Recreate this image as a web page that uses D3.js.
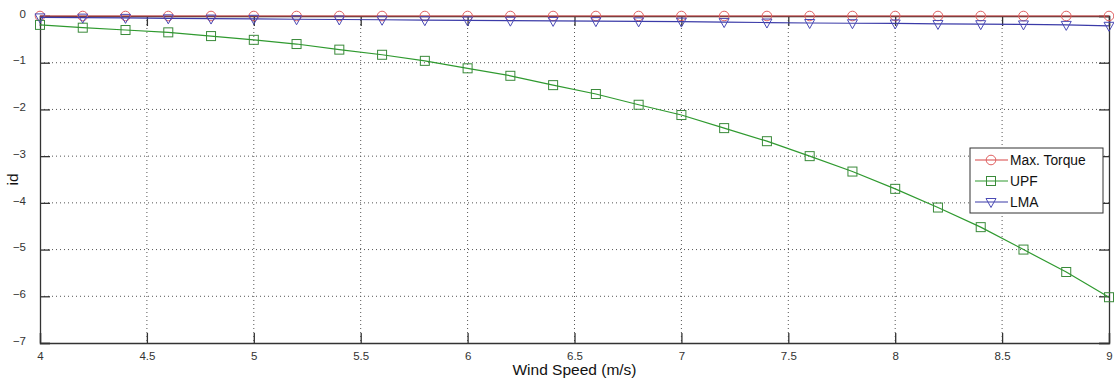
<!DOCTYPE html>
<html><head><meta charset="utf-8">
<script src="https://cdn.jsdelivr.net/npm/d3@7"></script>
<style>body{margin:0;background:#fff;} svg{display:block;font-family:"Liberation Sans",Arial,sans-serif;}</style>
</head><body>
<script>
const windSpeed = [4,4.2,4.4,4.6,4.8,5,5.2,5.4,5.6,5.8,6,6.2,6.4,6.6,6.8,7,7.2,7.4,7.6,7.8,8,8.2,8.4,8.6,8.8,9];
const maxTorque = [0,0,0,0,0,0,0,0,0,0,0,0,0,0,0,0,0,0,0,0,0,0,0,0,0,0];
const upf = [-0.19,-0.25,-0.30,-0.35,-0.43,-0.51,-0.60,-0.72,-0.83,-0.96,-1.12,-1.28,-1.48,-1.67,-1.90,-2.12,-2.40,-2.68,-3.00,-3.33,-3.70,-4.10,-4.52,-5.00,-5.48,-6.02];
const lma = [-0.03,-0.035,-0.04,-0.05,-0.055,-0.06,-0.07,-0.075,-0.08,-0.09,-0.095,-0.10,-0.105,-0.11,-0.115,-0.12,-0.13,-0.14,-0.15,-0.155,-0.16,-0.17,-0.175,-0.18,-0.19,-0.21];
const xTicks = [4,4.5,5,5.5,6,6.5,7,7.5,8,8.5,9];
const yTicks = [0,-1,-2,-3,-4,-5,-6,-7];
const seriesNames = ["Max. Torque","UPF","LMA"];
const xLabel = "Wind Speed (m/s)";
const yLabel = "id";

const W=1114,H=380;
const m={l:40,r:5,t:16,b:37};
const svg=d3.select("body").append("svg").attr("width",W).attr("height",H);
const x=d3.scaleLinear().domain([4,9]).range([m.l,W-m.r]);
const y=d3.scaleLinear().domain([-7,0]).range([H-m.b,m.t]);
const x0=x(4),x1=x(9),y0=y(-7),y1=y(0);

// grid
const g=svg.append("g");
xTicks.slice(1,-1).forEach(t=>g.append("line").attr("x1",x(t)).attr("x2",x(t)).attr("y1",y1).attr("y2",y0)
  .attr("stroke","#555").attr("stroke-width",1).attr("stroke-dasharray","1,3"));
yTicks.slice(1,-1).forEach(t=>g.append("line").attr("x1",x0).attr("x2",x1).attr("y1",y(t)).attr("y2",y(t))
  .attr("stroke","#555").attr("stroke-width",1).attr("stroke-dasharray","1,3"));

// axes
const tl=10;
const xb=svg.append("g").attr("transform",`translate(0,${y0})`).call(d3.axisBottom(x).tickValues(xTicks).tickSize(-tl).tickPadding(13).tickFormat(d3.format("")));
const xt=svg.append("g").attr("transform",`translate(0,${y1})`).call(d3.axisTop(x).tickValues(xTicks).tickSize(-tl).tickFormat(""));
const yl=svg.append("g").attr("transform",`translate(${x0},0)`).call(d3.axisLeft(y).tickValues(yTicks).tickSize(-tl).tickPadding(14).tickFormat(d3.format("")));
const yr=svg.append("g").attr("transform",`translate(${x1},0)`).call(d3.axisRight(y).tickValues(yTicks).tickSize(-tl).tickFormat(""));
[xb,xt,yl,yr].forEach(a=>{a.select(".domain").attr("stroke","#333").attr("stroke-width",1.3);
  a.selectAll(".tick line").attr("stroke","#333").attr("stroke-width",1.3);
  a.selectAll("text").attr("fill","#333").style("font-size","11.5px").style("font-family","'Liberation Sans',Arial,sans-serif");});
xb.selectAll("text").attr("dy","0.35em");
yl.selectAll(".tick text").attr("dy","0.1em");

// labels
svg.append("text").attr("x",(x0+x1)/2).attr("y",375).attr("text-anchor","middle").style("font-size","15.5px").attr("fill","#111").text(xLabel);
svg.append("text").attr("transform",`translate(18,${(y0+y1)/2}) rotate(-90)`).attr("text-anchor","middle").style("font-size","15.5px").attr("fill","#111").text(yLabel);

const cols=[{line:"#d84444",mk:"#e06060"},{line:"#2f9a2f",mk:"#3a8a3a"},{line:"#3b3ba8",mk:"#4a4ab5"}];
const data=[maxTorque,upf,lma];
const line=d3.line().x((d,i)=>x(windSpeed[i])).y(d=>y(d));
function marker(sel,k,cx,cy){
  if(k===0) sel.append("circle").attr("cx",cx).attr("cy",cy).attr("r",4.8).attr("fill","none").attr("stroke",cols[0].mk).attr("stroke-width",1);
  else if(k===1) sel.append("rect").attr("x",cx-4.5).attr("y",cy-4.5).attr("width",9).attr("height",9).attr("fill","none").attr("stroke",cols[1].mk).attr("stroke-width",1);
  else sel.append("path").attr("d",`M${cx-5},${cy-3.5}L${cx+5},${cy-3.5}L${cx},${cy+5.5}Z`).attr("fill","none").attr("stroke",cols[2].mk).attr("stroke-width",1);
}
const pl=svg.append("g");
data.forEach((arr,k)=>{
  pl.append("path").datum(arr).attr("d",line).attr("fill","none").attr("stroke",cols[k].line).attr("stroke-width",1.2);
  arr.forEach((v,i)=>marker(pl,k,x(windSpeed[i]),y(v)));
});

// legend
const lg=svg.append("g");
lg.append("rect").attr("x",970).attr("y",148).attr("width",133).attr("height",65).attr("fill","#fff").attr("stroke","#333").attr("stroke-width",1);
seriesNames.forEach((n,k)=>{
  const cy=160+k*21;
  lg.append("line").attr("x1",975).attr("x2",1008).attr("y1",cy).attr("y2",cy).attr("stroke",cols[k].line).attr("stroke-width",1.2);
  marker(lg,k,991,cy);
  lg.append("text").attr("x",1010).attr("y",cy).attr("dy","0.36em").style("font-size","13.8px").attr("fill","#111").text(n);
});
</script>
</body></html>
